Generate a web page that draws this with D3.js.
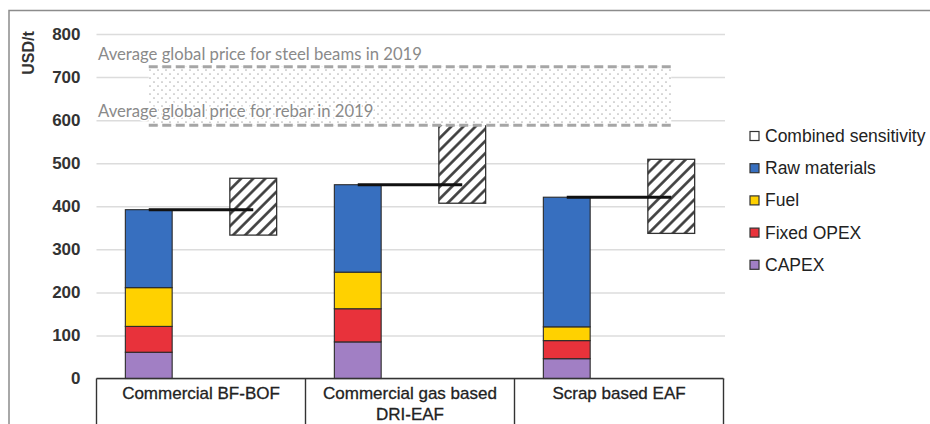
<!DOCTYPE html>
<html>
<head>
<meta charset="utf-8">
<script src="https://cdn.jsdelivr.net/npm/d3@7"></script>
<style>
  html, body { margin: 0; padding: 0; background: #fff; }
  svg { display: block; }
</style>
</head>
<body>
<svg id="chart" width="930" height="424"></svg>
<script>
// Levelised steel production cost by route, USD per tonne
const categories = ["Commercial BF-BOF", "Commercial gas based DRI-EAF", "Scrap based EAF"];
const categoryLines = [["Commercial BF-BOF"], ["Commercial gas based", "DRI-EAF"], ["Scrap based EAF"]];
const capex = [61, 85, 46];
const fixedOpex = [60, 77, 42];
const fuel = [90, 85, 32];
const rawMaterials = [181, 203, 301];
const sensitivityLow = [333, 407, 337];
const sensitivityHigh = [465, 590, 509];
const priceRebar2019 = 588;
const priceBeams2019 = 724;
const yTicks = [0, 100, 200, 300, 400, 500, 600, 700, 800];
const seriesNames = ["CAPEX", "Fixed OPEX", "Fuel", "Raw materials"];
const seriesColors = ["#a17fc4", "#e8323b", "#ffd100", "#376fbf"];
const legendItems = ["Combined sensitivity", "Raw materials", "Fuel", "Fixed OPEX", "CAPEX"];

const svg = d3.select("#chart");
const defs = svg.append("defs");

// Diagonal hatch for the sensitivity ranges
const hatch = defs.append("pattern")
  .attr("id", "hatch").attr("patternUnits", "userSpaceOnUse")
  .attr("width", 8.6).attr("height", 8.6)
  .attr("patternTransform", "rotate(45)");
hatch.append("rect").attr("width", 8.6).attr("height", 8.6).attr("fill", "#fff");
hatch.append("line").attr("x1", 4.3).attr("x2", 4.3).attr("y1", 0).attr("y2", 8.6)
  .attr("stroke", "#3a3a3a").attr("stroke-width", 2.6);

// Fine dot screen for the price band
const dots = defs.append("pattern")
  .attr("id", "dots").attr("patternUnits", "userSpaceOnUse")
  .attr("width", 8).attr("height", 8);
dots.append("rect").attr("width", 8).attr("height", 8).attr("fill", "#fff");
dots.append("circle").attr("cx", 2).attr("cy", 2).attr("r", 0.85).attr("fill", "#b4b4b4");
dots.append("circle").attr("cx", 6).attr("cy", 6).attr("r", 0.85).attr("fill", "#b4b4b4");

// Outer frame (top and left edges)
svg.append("path").attr("d", "M9,424 V10.5 H930")
  .attr("fill", "none").attr("stroke", "#8c8c8c").attr("stroke-width", 1.5);

const plotLeft = 96.5, plotRight = 723.5, gridRight = 725;
const y = d3.scaleLinear().domain([0, 800]).range([378.5, 34]);
const x = d3.scaleBand().domain(categories).range([plotLeft, plotRight]).padding(0);
const inner = d3.scaleBand().domain(["cost", "sensitivity"])
  .range([0, x.bandwidth()]).paddingInner(0.552).paddingOuter(0.276);

// Gridlines
svg.append("g")
  .attr("transform", `translate(${plotLeft},0)`)
  .call(d3.axisLeft(y).tickValues(yTicks).tickSize(-(gridRight - plotLeft)).tickFormat(""))
  .call(g => g.select(".domain").remove())
  .call(g => g.selectAll("line").attr("stroke", "#dcdcdc").attr("stroke-width", 1.5));

// Y tick labels
svg.append("g")
  .attr("transform", `translate(${plotLeft},0)`)
  .call(d3.axisLeft(y).tickValues(yTicks).tickSize(0).tickPadding(16).tickFormat(d3.format("d")))
  .call(g => g.select(".domain").remove())
  .call(g => g.selectAll("text")
    .attr("font-family", "'Liberation Sans', Arial, sans-serif")
    .attr("font-size", 17).attr("font-weight", "bold").attr("fill", "#333"));

svg.append("text")
  .attr("transform", "translate(34,53) rotate(-90)")
  .attr("text-anchor", "middle")
  .attr("font-family", "'Liberation Sans', Arial, sans-serif")
  .attr("font-size", 16).attr("font-weight", "bold").attr("fill", "#333")
  .text("USD/t");

// Stacked cost bars
const rows = categories.map((c, i) => ({
  category: c,
  "CAPEX": capex[i], "Fixed OPEX": fixedOpex[i], "Fuel": fuel[i], "Raw materials": rawMaterials[i]
}));
const stacked = d3.stack().keys(seriesNames)(rows);
const color = d3.scaleOrdinal().domain(seriesNames).range(seriesColors);

svg.append("g").selectAll("g").data(stacked).join("g")
  .attr("fill", d => color(d.key))
  .selectAll("rect").data(d => d).join("rect")
  .attr("x", d => x(d.data.category) + inner("cost"))
  .attr("width", inner.bandwidth())
  .attr("y", d => y(d[1]))
  .attr("height", d => y(d[0]) - y(d[1]))
  .attr("stroke", "#2a2a2a").attr("stroke-width", 1.1);

// Combined sensitivity ranges
svg.append("g").selectAll("rect").data(categories).join("rect")
  .attr("x", (c) => x(c) + inner("sensitivity"))
  .attr("width", inner.bandwidth())
  .attr("y", (c, i) => y(sensitivityHigh[i]))
  .attr("height", (c, i) => y(sensitivityLow[i]) - y(sensitivityHigh[i]))
  .attr("fill", "url(#hatch)")
  .attr("stroke", "#333").attr("stroke-width", 1.3);

// 2019 price band between rebar and steel beams
const bandLeft = x(categories[0]) + inner("cost") + inner.bandwidth() / 2;
const bandRight = x(categories[2]) + inner("sensitivity") + inner.bandwidth() / 2;
svg.append("rect")
  .attr("x", bandLeft).attr("width", bandRight - bandLeft)
  .attr("y", y(priceBeams2019)).attr("height", y(priceRebar2019) - y(priceBeams2019))
  .attr("fill", "url(#dots)");
svg.append("g").selectAll("line").data([priceBeams2019, priceRebar2019]).join("line")
  .attr("x1", bandLeft).attr("x2", bandRight)
  .attr("y1", d => y(d)).attr("y2", d => y(d))
  .attr("stroke", "#a6a6a6").attr("stroke-width", 3)
  .attr("stroke-dasharray", "9,4.5");

const priceLabels = [
  { text: "Average global price for steel beams in 2019", value: priceBeams2019, dy: -7 },
  { text: "Average global price for rebar in 2019", value: priceRebar2019, dy: -8 }
];
svg.append("g").selectAll("text").data(priceLabels).join("text")
  .attr("x", 98).attr("y", d => y(d.value) + d.dy)
  .attr("font-family", "Lato, 'Open Sans', sans-serif")
  .attr("font-size", 16.7).attr("fill", "#8a8a8a")
  .attr("stroke", "#fff").attr("stroke-width", 3).attr("paint-order", "stroke")
  .text(d => d.text);

// Total cost markers
const totals = categories.map((c, i) => capex[i] + fixedOpex[i] + fuel[i] + rawMaterials[i]);
svg.append("g").selectAll("line").data(categories).join("line")
  .attr("x1", c => x(c) + inner("cost") + inner.bandwidth() / 2)
  .attr("x2", c => x(c) + inner("sensitivity") + inner.bandwidth() / 2)
  .attr("y1", (c, i) => y(totals[i])).attr("y2", (c, i) => y(totals[i]))
  .attr("stroke", "#111").attr("stroke-width", 3);

// Category table beneath the plot
const table = svg.append("g").attr("stroke", "#333").attr("stroke-width", 1.4);
table.append("line").attr("x1", plotLeft).attr("x2", plotRight)
  .attr("y1", y(0)).attr("y2", y(0));
const edges = categories.map(c => x(c)).concat([plotRight]);
table.selectAll("line.edge").data(edges).join("line").attr("class", "edge")
  .attr("x1", d => d).attr("x2", d => d)
  .attr("y1", y(0)).attr("y2", 424);

svg.append("g").selectAll("text").data(categories).join("text")
  .attr("x", c => x(c) + x.bandwidth() / 2)
  .attr("y", 399)
  .attr("text-anchor", "middle")
  .attr("font-family", "'Liberation Sans', Arial, sans-serif")
  .attr("font-size", 17).attr("fill", "#222")
  .attr("stroke", "#222").attr("stroke-width", 0.3)
  .selectAll("tspan").data((c, i) => categoryLines[i]).join("tspan")
  .attr("x", function() { return d3.select(this.parentNode).attr("x"); })
  .attr("dy", (d, j) => j === 0 ? 0 : 21)
  .text(d => d);

// Legend
const legend = svg.append("g").attr("transform", "translate(750,136)");
const legendRow = legend.selectAll("g").data(legendItems).join("g")
  .attr("transform", (d, i) => `translate(0,${i * 32.2})`);
legendRow.append("rect")
  .attr("x", 0).attr("y", -4.5).attr("width", 9).attr("height", 9)
  .attr("fill", d => d === "Combined sensitivity" ? "#fff" : color(d))
  .attr("stroke", "#333").attr("stroke-width", 1.2);
legendRow.append("text")
  .attr("x", 15).attr("y", 6)
  .attr("font-family", "'Liberation Sans', Arial, sans-serif")
  .attr("font-size", 17.5).attr("fill", "#222")
  .text(d => d);
</script>
</body>
</html>
